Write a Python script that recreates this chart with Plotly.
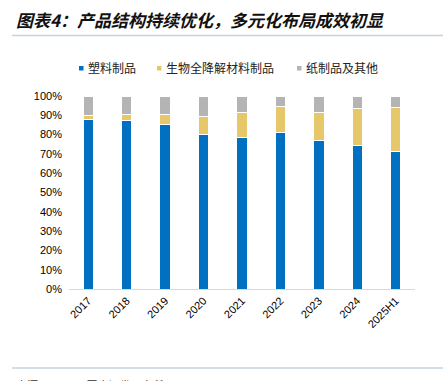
import plotly.graph_objects as go

categories = ["2017", "2018", "2019", "2020", "2021", "2022", "2023", "2024", "2025H1"]
plastic = [87.7, 87.5, 85.1, 80.3, 78.6, 81.0, 76.8, 74.2, 71.4]
biodeg = [2.3, 3.0, 5.4, 9.3, 12.8, 13.8, 14.9, 19.1, 22.6]
paper_other = [round(100 - a - b, 1) for a, b in zip(plastic, biodeg)]
series_names = ["塑料制品", "生物全降解材料制品", "纸制品及其他"]
y_ticks = [0, 10, 20, 30, 40, 50, 60, 70, 80, 90, 100]
y_tick_labels = [f"{v}%" for v in y_ticks]

colors = ["#0070C0", "#E6C769", "#B4B4B4"]
W, H = 443, 381
L, R, T, B = 69, 28, 96, 92
pw, ph = W - L - R, H - T - B

def px2x(px):
    return (px - L) / pw

def py2y(py):
    return (H - B - py) / ph

fig = go.Figure()
for name, vals, col in zip(series_names, [plastic, biodeg, paper_other], colors):
    fig.add_trace(go.Bar(
        x=categories, y=vals, name=name,
        marker=dict(color=col, line=dict(color="white", width=1)),
        width=0.27,
    ))

fig.update_layout(
    barmode="stack",
    width=W, height=H,
    margin=dict(l=L, r=R, t=T, b=B, autoexpand=False),
    plot_bgcolor="white", paper_bgcolor="white",
    font=dict(family="Liberation Sans, Arial, sans-serif", size=11, color="#000000"),
    showlegend=False,
    xaxis=dict(
        tickangle=-45, showline=True, linecolor="#D9D9D9", linewidth=1,
        ticks="", showgrid=False, tickfont=dict(size=11),
    ),
    yaxis=dict(
        range=[0, 100], tickvals=y_ticks, ticktext=y_tick_labels,
        showgrid=False, showline=False, ticks="", zeroline=False,
        tickfont=dict(size=11), ticklabelstandoff=6,
    ),
)

# legend (manual, small square markers)
legend_marker_x = [79, 157, 297]
for name, col, mx in zip(series_names, colors, legend_marker_x):
    fig.add_shape(type="rect", xref="paper", yref="paper",
                  x0=px2x(mx), x1=px2x(mx + 4.5), y0=py2y(66), y1=py2y(70.5),
                  line=dict(width=0), fillcolor=col)
    fig.add_annotation(
        xref="paper", yref="paper", x=px2x(mx + 7), y=py2y(68), xanchor="left", yanchor="middle",
        text=name, showarrow=False,
        font=dict(family="Noto Sans CJK SC", size=12, color="#222222"),
    )

# title
fig.add_annotation(
    xref="paper", yref="paper", x=px2x(14), y=py2y(20), xanchor="left", yanchor="middle",
    text="<b><i>图表4：产品结构持续优化，多元化布局成效初显</i></b>", showarrow=False,
    font=dict(family="Noto Sans CJK SC", size=17, color="#111111"),
)
# lines
for yy in (35.5, 368):
    fig.add_shape(type="line", xref="paper", yref="paper",
                  x0=px2x(12), x1=px2x(443), y0=py2y(yy), y1=py2y(yy),
                  line=dict(color="#C5D3E0", width=1.5))
# source
fig.add_annotation(
    xref="paper", yref="paper", x=px2x(14), y=py2y(375), xanchor="left", yanchor="top",
    text="来源：iFinD，国金证券研究所", showarrow=False,
    font=dict(family="Noto Sans CJK SC", size=11, color="#333333"),
)

fig.write_html(
    "out.html",
    config={"displayModeBar": False},
    post_script="document.body.style.margin='0';document.body.style.overflow='hidden';",
)
